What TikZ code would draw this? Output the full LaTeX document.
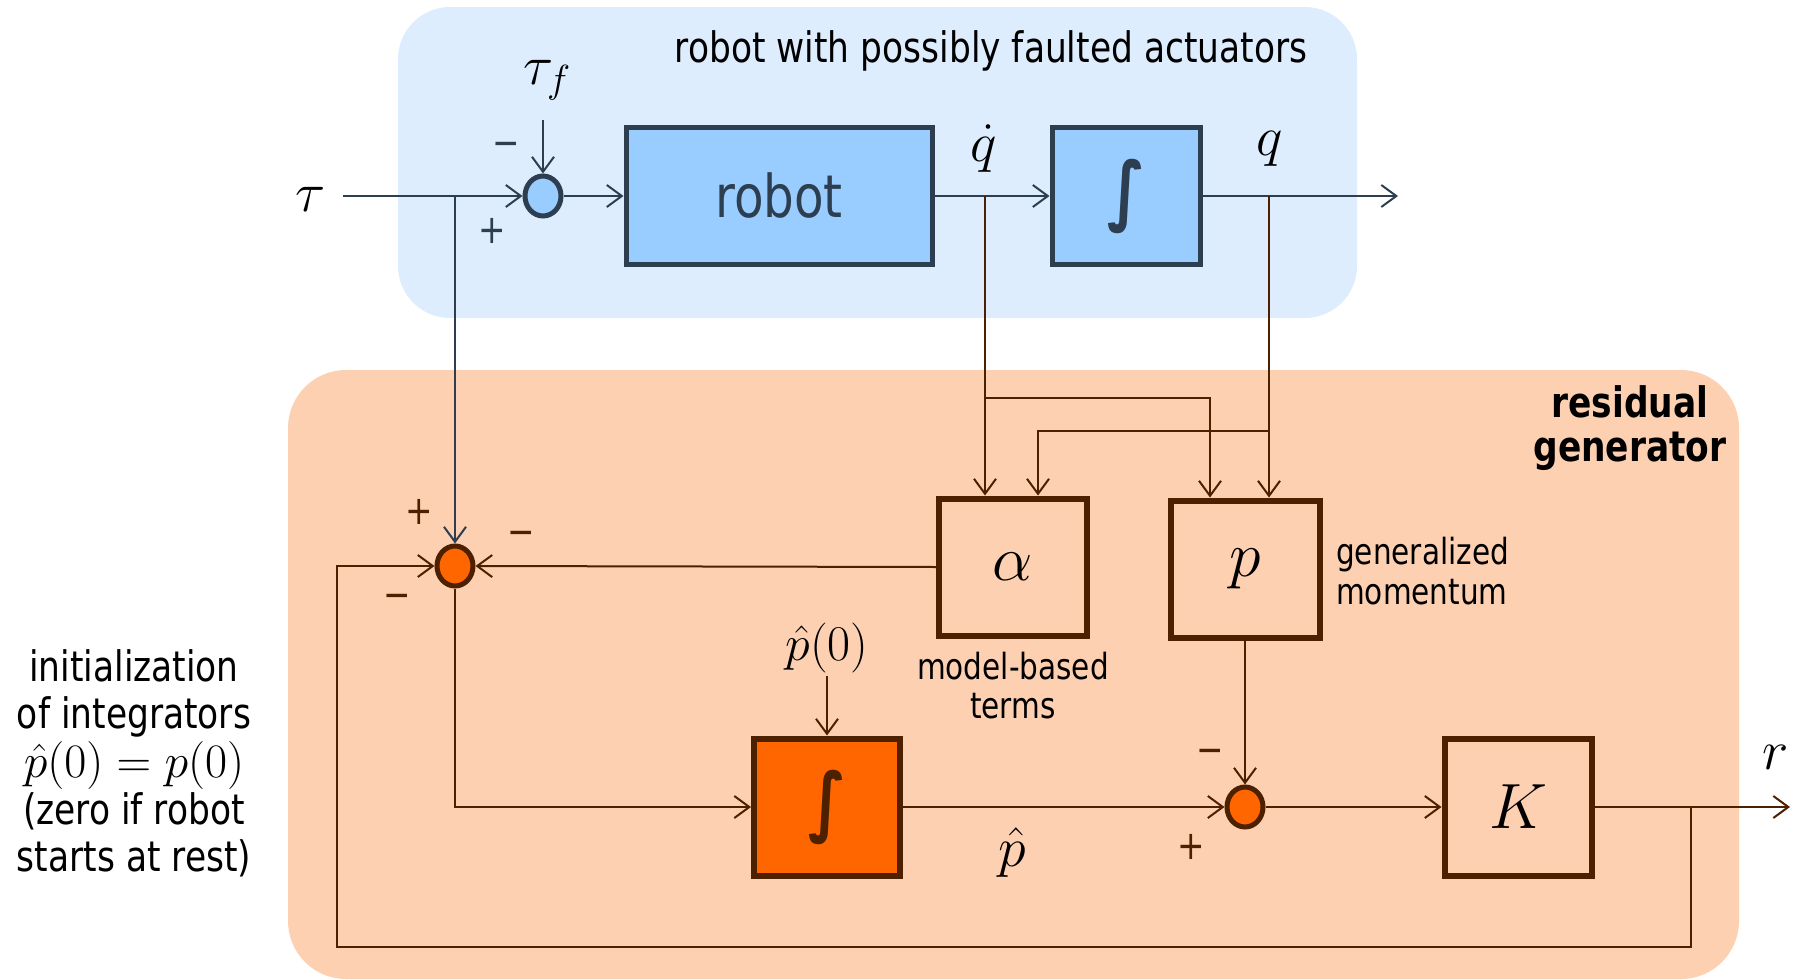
\RequirePackage{fix-cm}
\documentclass[tikz,border=0pt]{standalone}
\usepackage{fontspec}
\setmainfont{DejaVu Sans}[FakeStretch=0.82]
\usetikzlibrary{arrows.meta,shapes.geometric}

\definecolor{robotbg}{RGB}{222,237,253}
\definecolor{robotfill}{RGB}{153,204,255}
\definecolor{slate}{RGB}{44,62,80}
\definecolor{residbg}{RGB}{253,208,178}
\definecolor{residfill}{RGB}{255,102,0}
\definecolor{umber}{RGB}{77,32,0}

\tikzset{
  blk/.style={draw, rectangle, inner sep=0pt, line width=5pt},
  robotblk/.style={blk, draw=slate, fill=robotfill, text=slate},
  residblk/.style={blk, draw=umber, line width=6pt},
  sumpt/.style={ellipse, draw, line width=5pt, minimum width=36pt, minimum height=40pt, inner sep=0pt},
  wire/.style={line width=2pt},
  arr/.style={wire, -{Straight Barb[length=15pt,width=22pt]}},
  lbl/.style={inner sep=0pt, font=\fontsize{56}{60}\selectfont},
  sym/.style={font=\fontsize{64}{70}\selectfont},
  intsym/.style={font=\fontsize{76}{76}\bfseries\selectfont},
  sign/.style={inner sep=0pt, font=\fontsize{40}{40}\selectfont},
  note/.style={inner sep=0pt, align=center, font=\fontsize{36}{40}\selectfont},
}

\begin{document}
\begin{tikzpicture}[x=1pt, y=-1pt]
\useasboundingbox (0,0) rectangle (1794,980);

% background panels
\fill[robotbg, rounded corners=52pt] (398,7) rectangle (1357,318);
\fill[residbg, rounded corners=58pt] (288,370) rectangle (1739,979);

% panel titles
\node[inner sep=0pt, font=\fontsize{42}{50}\selectfont] (ttl) at (991,51) {robot with possibly faulted actuators};
\node[inner sep=0pt, align=center, font=\fontsize{42}{44}\bfseries\selectfont] (rg) at (1630,428) {residual\\generator};

% robot loop blocks
\node[sumpt, draw=slate, fill=robotfill] (s1) at (543,196) {};
\node[robotblk, minimum width=306pt, minimum height=137pt, font=\fontsize{59}{60}\selectfont] (robot) at (779,196) {robot};
\node[robotblk, minimum width=148pt, minimum height=137pt, intsym] (int1) at (1126,196) {∫};

% residual generator blocks
\node[sumpt, draw=umber, fill=residfill] (s2) at (455,566) {};
\node[residblk, minimum width=148pt, minimum height=137pt, sym] (alpha) at (1013,567) {$\alpha$};
\node[residblk, minimum width=149pt, minimum height=137pt, sym] (p) at (1245,569) {$p$};
\node[residblk, fill=residfill, minimum width=146pt, minimum height=137pt, intsym, text=umber] (int2) at (827,807) {∫};
\node[sumpt, draw=umber, fill=residfill] (s3) at (1245,807) {};
\node[residblk, minimum width=147pt, minimum height=137pt, sym] (K) at (1518,807) {$K$};

% signal labels
\node[lbl] (tau) at (311,199) {$\tau$};
\node[lbl] (tauf) at (547,80) {$\tau_f$};
\node[lbl] (qd) at (984,149) {$\dot q$};
\node[lbl] (q) at (1270,149) {$q$};
\node[lbl, font=\fontsize{50}{56}\selectfont] (p0) at (827,648) {$\hat p(0)$};
\node[lbl] (ph) at (1012,852) {$\hat p$};
\node[lbl] (r) at (1776,757) {$r$};

% signs at the summing points
\node[sign, text=slate] at (506,149) {−};
\node[sign, text=slate] at (492,231) {+};
\node[sign, text=umber] at (419,512) {+};
\node[sign, text=umber] at (521,538) {−};
\node[sign, text=umber] at (397,601) {−};
\node[sign, text=umber] at (1210,756) {−};
\node[sign, text=umber] at (1191,847) {+};

% notes
\node[note, anchor=west, align=left] (gm) at (1336,571) {generalized\\momentum};
\node[note, font=\fontsize{36}{39}\selectfont] (mb) at (1013,686) {model-based\\terms};
\node[note, font=\fontsize{42}{47}\selectfont] (init) at (134,763)
  {initialization\\of integrators\\[2pt]{\fontsize{48}{48}\selectfont$\hat p(0)=p(0)$}\\(zero if robot\\starts at rest)};

% branch and end points
\coordinate (tin) at (343,196);
\coordinate (tb) at (455,196);
\coordinate (tfin) at (543,120);
\coordinate (qout) at (1398,196);
\coordinate (qdb) at (985,196);
\coordinate (qdh) at (985,398);
\coordinate (qb) at (1269,196);
\coordinate (qh) at (1269,431);
\coordinate (p0in) at (827,676);
\coordinate (rout) at (1790,807);
\coordinate (kb) at (1691,807);
\coordinate (fb1) at (1691,947);
\coordinate (fb2) at (337,947);
\coordinate (fb3) at (337,566);

% robot loop wiring
\draw[arr, slate] (tin) -- (s1.west);
\draw[arr, slate] (tfin) -- (s1.north);
\draw[arr, slate] (s1.east) -- (robot.west);
\draw[arr, slate] (robot.east) -- (int1.west);
\draw[arr, slate] (int1.east) -- (qout);

% measured signals into the residual generator
\draw[arr, slate] (tb) -- (s2.north);
\draw[arr, umber] (qdb) -- (qdb |- alpha.north);
\draw[arr, umber] (qdh) -| ([xshift=-35pt]p.north);
\draw[arr, umber] (qb) -- ([xshift=24pt]p.north);
\draw[arr, umber] (qh) -| ([xshift=25pt]alpha.north);

% residual generator wiring
\draw[arr, umber] (alpha.west) -- (s2.east);
\draw[arr, umber] (s2.south) |- (int2.west);
\draw[arr, umber] (p0in) -- (int2.north);
\draw[arr, umber] (int2.east) -- (s3.west);
\draw[arr, umber] (p.south) -- (s3.north);
\draw[arr, umber] (s3.east) -- (K.west);
\draw[arr, umber] (K.east) -- (rout);
\draw[arr, umber] (kb) -- (fb1) -- (fb2) -- (fb3) -- (s2.west);
\end{tikzpicture}
\end{document}
